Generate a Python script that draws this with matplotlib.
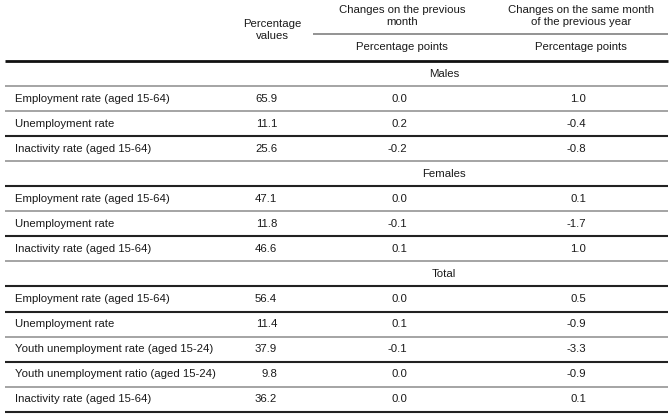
import matplotlib.pyplot as plt

plt.rcParams['font.family'] = ['Liberation Sans', 'DejaVu Sans']

# table content
groups = ['Males', 'Females', 'Total']
group_rows = [
    ['Employment rate (aged 15-64)', 'Unemployment rate', 'Inactivity rate (aged 15-64)'],
    ['Employment rate (aged 15-64)', 'Unemployment rate', 'Inactivity rate (aged 15-64)'],
    ['Employment rate (aged 15-64)', 'Unemployment rate', 'Youth unemployment rate (aged 15-24)',
     'Youth unemployment ratio (aged 15-24)', 'Inactivity rate (aged 15-64)'],
]
pct_values = [[65.9, 11.1, 25.6], [47.1, 11.8, 46.6], [56.4, 11.4, 37.9, 9.8, 36.2]]
chg_month = [[0.0, 0.2, -0.2], [0.0, -0.1, 0.1], [0.0, 0.1, -0.1, 0.0, 0.0]]
chg_year = [[1.0, -0.4, -0.8], [0.1, -1.7, 1.0], [0.5, -0.9, -3.3, -0.9, 0.1]]

col_heads = ['Percentage\nvalues', 'Changes on the previous\nmonth',
             'Changes on the same month\nof the previous year']
sub_head = 'Percentage points'

fig = plt.figure(figsize=(6.72, 4.18), dpi=100)
ax = fig.add_axes([0, 0, 1, 1])
ax.set_xlim(0, 672)
ax.set_ylim(418, 0)
ax.axis('off')

fs = 8.2
tc = '#1a1a1a'
x_left, x_right = 5, 668
x_lab = 15
x_col = [277, 407, 586]      # right edge of numbers
x_head = [272, 402, 581]     # header centres
x_group = 444
top, row_h = 61, 25.05

# header
ax.text(x_head[0], 30, col_heads[0], ha='center', va='center', fontsize=fs, color=tc, linespacing=1.15)
ax.text(x_head[1], 16, col_heads[1], ha='center', va='center', fontsize=fs, color=tc, linespacing=1.15)
ax.text(x_head[2], 16, col_heads[2], ha='center', va='center', fontsize=fs, color=tc, linespacing=1.15)
ax.hlines(33.5, 313, x_right, color='#8a8a8a', lw=1.3)
ax.text(x_head[1], 47, sub_head, ha='center', va='center', fontsize=fs, color=tc)
ax.text(x_head[2], 47, sub_head, ha='center', va='center', fontsize=fs, color=tc)
ax.hlines(top, x_left, x_right, color='#111111', lw=2.0)

# line look below each row (dark or light), alternating as in the scan
dark = [False, False, True, False, True, False, True, False, True, True, False, True, False, True]

i = 0
for g, name in enumerate(groups):
    yc = top + row_h * (i + 0.5)
    ax.text(x_group, yc, name, ha='center', va='center', fontsize=fs, color=tc)
    i += 1
    for r, lab in enumerate(group_rows[g]):
        yc = top + row_h * (i + 0.5)
        ax.text(x_lab, yc, lab, ha='left', va='center', fontsize=fs, color=tc)
        ax.text(x_col[0], yc, f'{pct_values[g][r]:.1f}', ha='right', va='center', fontsize=fs, color=tc)
        ax.text(x_col[1], yc, f'{chg_month[g][r]:.1f}', ha='right', va='center', fontsize=fs, color=tc)
        ax.text(x_col[2], yc, f'{chg_year[g][r]:.1f}', ha='right', va='center', fontsize=fs, color=tc)
        i += 1

for k in range(i):
    y = top + row_h * (k + 1)
    if dark[k]:
        ax.hlines(y, x_left, x_right, color='#222222', lw=1.5)
    else:
        ax.hlines(y, x_left, x_right, color='#8c8c8c', lw=1.1)

plt.savefig('out.png', dpi=100)
